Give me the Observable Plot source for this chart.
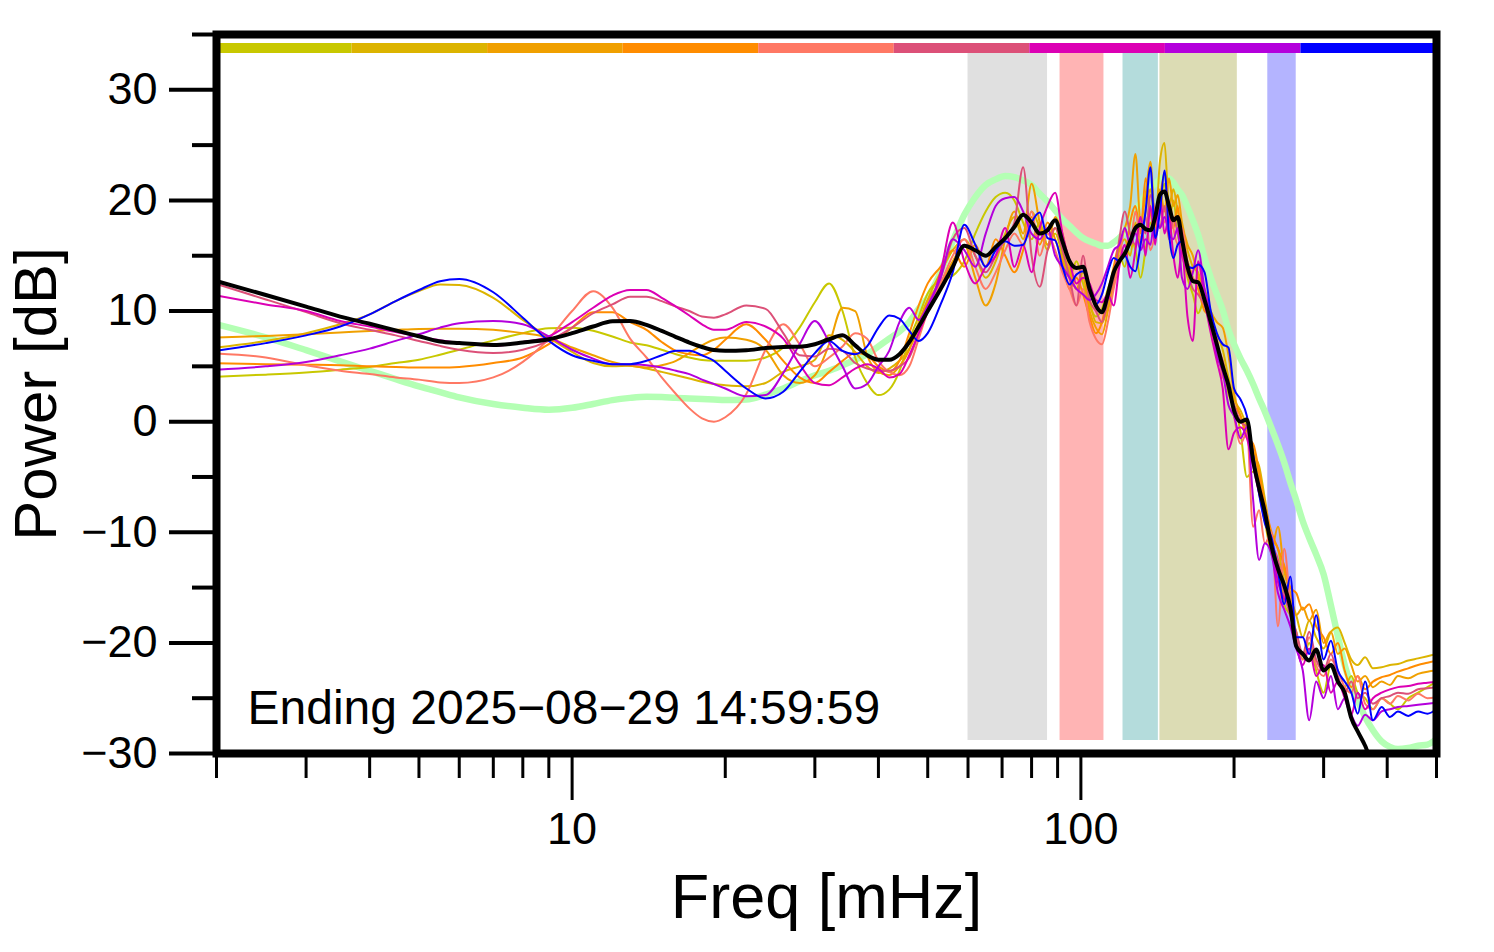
<!DOCTYPE html>
<html><head><meta charset="utf-8">
<script src="https://cdn.jsdelivr.net/npm/d3@7"></script>
<script src="https://cdn.jsdelivr.net/npm/@observablehq/plot@0.6"></script>
<style>
html,body{margin:0;padding:0;background:#fff;}
#chart{width:1494px;height:952px;}
</style></head><body><div id="chart"></div>
<script>
// Frequency grid (mHz)
const freq = [2, 2.5, 3, 3.5, 4, 4.5, 5, 5.5, 6, 7, 8, 9, 10, 11, 12, 13, 14, 15, 16, 17, 18, 19, 20,
  22, 24, 26, 28, 30, 32, 34, 36, 38, 40, 42, 44, 46, 48, 50,
  53, 56, 59, 62, 65, 68, 71, 74, 77, 80, 83, 86, 89, 92, 95, 98, 101, 104, 107, 110, 113, 116, 119, 122, 125, 128, 131, 134, 137, 140, 143, 146, 149,
  152, 155, 158, 162, 166, 170, 175, 180, 185, 190, 195, 200, 206, 212, 218, 224, 230, 237, 244, 251, 258, 265,
  273, 281, 290, 300, 310, 320, 330, 340, 350, 362, 375, 390, 405, 420, 440, 460, 480, 500];

const seriesColors = ["#c8c800", "#dcb400", "#f0a000", "#ff8c00", "#ff7864", "#dc5078", "#dc00b4", "#b400dc", "#0000ff"];

const olive = [4.07, 4.25, 4.45, 4.7, 4.95, 5.3, 5.6, 6.05, 6.5, 7.35, 8.0, 8.45, 8.5, 8.22, 7.7, 7.16, 6.9, 6.5, 6.1, 5.8, 5.57, 5.5, 5.5, 5.5, 5.8, 6.7, 8.5, 10.8, 12.5, 10.0, 5.8, 3.5, 2.4, 2.9, 4.6, 7.4, 9.5, 11.6,
  12.8, 13.2, 14.5, 17.0, 19.0, 20.3, 20.7, 20.0, 18.0, 16.5, 18.0, 16.0, 17.0,
  15.0, 13.0, 14.5, 12.5, 10.5, 9.5, 10.2, 12.0, 13.5, 15.0, 14.0, 16.5, 15.5, 13.0, 15.5, 18.0, 16.5, 19.5, 21.5, 18.0, 20.0, 17.0, 15.5, 13.0, 11.5, 9.8, 11.0,
  8.5, 6.0, 5.5, 2.5, 1.5, -1.0, -5.0, -4.5, -5.5, -9.0, -12.0, -13.0, -16.5, -17.5, -19.0, -21.5, -20.0, -22.5, -24.5, -22.0, -23.5, -24.0, -23.0, -24.5, -25.0, -26.0, -25.0, -25.5, -26.0, -25.0, -24.5, -24.0, -23.5];
const gold = [6.71, 7.3, 8.0, 8.8, 9.7, 10.9, 11.8, 12.4, 12.35, 11.2, 9.2, 7.6, 6.3, 5.3, 5.0, 5.06, 4.8, 4.5, 4.2, 3.9, 3.6, 3.4, 3.3, 3.2, 3.5, 4.5, 5.0, 5.6, 7.8, 7.4, 6.3, 5.0, 4.4, 4.8, 5.5, 6.6, 8.5, 11.0,
  13.5, 15.5, 16.5, 15.0, 13.0, 14.5, 17.0, 18.5, 16.5, 19.0, 17.5, 15.5, 17.5,
  15.5, 13.5, 12.0, 13.5, 11.0, 9.0, 8.9, 10.5, 13.0, 15.5, 16.5, 15.0, 18.0, 16.0, 19.0, 21.0, 17.5, 23.5, 25.2, 19.5, 21.0, 19.0, 17.5, 15.5, 14.0, 13.5, 11.0,
  9.0, 8.0, 6.5, 4.0, 2.0, 1.0, -0.5, -3.0, -4.0, -7.0, -10.5, -11.5, -14.5, -16.0, -17.5, -19.5, -18.0, -19.5, -20.5, -19.0, -18.6, -20.0, -21.5, -22.0, -21.3, -22.3, -22.2, -22.0, -21.9, -21.6, -21.4, -21.2, -21.0];
const orange = [7.6, 7.75, 7.9, 8.05, 8.2, 8.3, 8.38, 8.4, 8.4, 8.3, 8.0, 7.6, 6.7, 6.0, 5.4, 5.06, 4.9, 5.1, 5.5, 6.2, 6.9, 7.4, 7.6, 7.4, 6.5, 4.2, 3.5, 4.2, 7.0, 10.3, 10.0, 6.0, 4.5, 4.2, 5.0, 6.5, 9.0, 11.0,
  12.5, 14.5, 16.0, 13.0, 10.5, 12.5, 16.5, 19.0, 17.0, 21.5, 18.0, 16.0, 18.5, 17.0, 14.0, 12.0, 13.0, 10.0, 8.5, 7.9, 10.0, 12.5, 16.0, 17.5, 19.5, 24.2, 18.0, 20.5, 23.5, 18.0, 21.0, 19.0, 22.0, 19.5, 20.5, 18.0, 16.0, 15.0, 13.0, 12.0,
  10.0, 9.0, 8.5, 6.0, 2.5, 0.5, -1.0, -2.5, -5.0, -8.5, -11.5, -9.5, -13.5, -15.5, -17.5, -16.8, -18.0, -17.0, -20.0, -19.0, -21.0, -20.5, -22.0, -23.5, -23.0, -24.0, -23.5, -23.8, -23.0, -23.2, -22.8, -22.6, -22.5];
const darkOrange = [5.27, 5.2, 5.15, 5.1, 5.0, 4.95, 4.9, 4.9, 4.95, 5.3, 5.8, 7.0, 8.5, 9.9, 9.9, 9.0, 8.3, 7.2, 6.4, 6.1, 6.0, 6.5, 7.4, 8.8, 7.4, 5.5, 4.0, 3.5, 4.5, 5.5, 6.2, 6.0, 5.0, 4.5, 5.5, 8.0, 10.5, 12.5,
  14.0, 15.5, 14.0, 16.0, 14.0, 16.5, 15.0, 13.5, 15.5, 18.5, 16.0, 18.0, 16.5, 14.5, 12.0, 13.0, 11.5, 9.5, 8.0, 9.0, 11.5, 14.0, 16.0, 15.0, 18.0, 19.5, 17.0, 22.0, 19.0, 17.0, 20.0, 22.5, 19.0, 17.5, 19.5, 15.5, 14.5, 13.0, 12.0, 10.0,
  9.5, 6.5, 5.0, 3.0, 1.5, 0.5, -1.5, -2.0, -4.5, -7.5, -10.0, -11.5, -13.0, -15.0, -15.5, -17.0, -16.5, -18.5, -19.5, -21.0, -20.0, -22.5, -24.0, -23.0, -24.2, -23.5, -23.1, -22.9, -22.6, -22.3, -22.0, -21.8, -21.6];
const salmon = [6.17, 5.8, 5.1, 4.6, 4.3, 4.0, 3.8, 3.55, 3.5, 4.0, 5.4, 7.5, 10.0, 11.8, 10.3, 7.5, 5.8, 4.0, 2.5, 1.2, 0.3, 0.0, 0.4, 2.5, 6.5, 8.8, 7.0, 5.0, 5.8, 6.8, 8.0, 7.5, 5.5, 4.5, 4.2, 5.0, 7.5, 10.0,
  12.5, 15.0, 16.5, 14.0, 12.0, 13.5, 15.5, 17.0, 16.0, 19.0, 15.0, 17.0, 15.5, 13.5, 12.0, 10.5, 12.0, 9.0, 7.5, 7.0, 9.0, 12.0, 14.5, 17.5, 16.0, 19.0, 16.5, 18.5, 15.5, 17.0, 19.0, 18.0, 20.0, 17.5, 16.0, 17.5, 14.5, 13.0, 12.5, 11.5,
  9.0, 7.5, 4.0, 3.5, 0.5, -2.0, -1.0, -9.5, -8.0, -11.0, -10.0, -18.5, -11.5, -16.5, -19.5, -21.5, -19.5, -22.0, -23.0, -21.5, -22.5, -24.0, -24.5, -23.0, -25.5, -26.0, -25.0, -25.5, -24.8, -25.2, -24.6, -25.0, -24.9];
const pinkRed = [12.44, 11.05, 9.9, 8.9, 8.3, 7.8, 7.3, 6.85, 6.5, 6.2, 6.5, 7.3, 8.5, 9.8, 10.6, 11.3, 11.3, 10.9, 10.4, 10.0, 9.5, 9.4, 9.7, 10.5, 10.2, 8.0, 6.0, 5.9, 6.6, 6.4, 5.3, 4.8, 4.6, 4.6, 5.0, 5.8, 8.0, 10.5,
  13.0, 16.5, 17.5, 15.0, 13.5, 15.0, 16.5, 18.0, 23.0, 15.0, 12.2, 15.5, 17.5, 15.5, 13.0, 10.5, 15.0, 11.0, 10.0, 9.0, 11.0, 13.0, 16.5, 19.0, 17.0, 16.0, 18.5, 17.0, 20.5, 19.0, 17.5, 19.5, 16.5, 18.5, 17.0, 15.0, 13.5, 12.0, 11.5, 10.5,
  8.5, 7.0, 5.5, 3.0, 1.5, 0.0, -0.5, -3.0, -6.0, -8.0, -11.0, -12.5, -15.5, -17.5, -19.0, -21.0, -19.0, -21.5, -22.5, -21.0, -23.0, -24.5, -23.5, -25.0, -24.5, -25.5, -25.0, -24.8, -24.5, -24.6, -24.2, -24.1, -24.0];
const magenta = [11.4, 10.6, 10.0, 9.1, 8.6, 8.1, 7.7, 7.35, 7.1, 6.87, 7.2, 7.7, 9.0, 10.3, 11.4, 11.9, 11.9, 11.2, 10.4, 9.6, 8.8, 8.3, 8.3, 9.0, 8.6, 7.5, 5.2, 3.5, 3.3, 4.0, 4.8, 5.2, 4.8, 4.0, 4.3, 6.0, 8.0, 10.0,
  13.5, 18.0, 14.5, 12.5, 14.0, 15.0, 17.5, 14.0, 16.0, 13.5, 17.5, 19.5, 20.7, 17.0, 14.5, 12.5, 13.0, 12.5, 11.0, 10.8, 11.5, 10.5, 14.0, 16.0, 13.0, 15.5, 18.5, 15.0, 19.5, 16.0, 20.5, 17.0, 18.5, 15.0, 13.0, 15.5, 9.5, 7.3, 14.5, 11.0,
  8.0, 5.5, 3.0, -2.5, -1.0, -0.5, -1.5, -4.0, -6.5, -9.0, -11.0, -14.5, -16.0, -16.5, -20.0, -22.0, -20.5, -23.0, -22.0, -24.5, -23.5, -25.0, -26.5, -24.5, -26.0, -25.0, -24.5, -24.2, -24.0, -23.9, -23.7, -23.6, -23.5];
const purple = [4.7, 5.0, 5.4, 6.0, 6.6, 7.3, 7.9, 8.5, 8.9, 9.1, 8.8, 7.7, 6.5, 5.7, 5.2, 5.2, 5.1, 4.9, 4.6, 4.3, 3.8, 3.4, 3.0, 2.3, 2.4, 4.4, 7.0, 9.1, 7.2, 5.0, 3.0, 3.4, 5.0, 6.4, 9.0, 10.3, 9.2, 10.5,
  13.0, 16.5, 15.5, 14.0, 17.0, 19.5, 20.2, 20.3, 19.0, 17.0, 16.5, 17.5, 15.0, 14.0, 13.0, 12.0, 11.5, 11.0, 11.5, 12.5, 14.0, 15.5, 16.0, 17.5, 16.0, 17.0, 15.5, 16.5, 16.0, 19.0, 17.5, 18.5, 17.0, 16.5, 17.5, 13.0, 12.0, 13.5, 15.5, 12.0,
  9.5, 6.0, 4.5, 1.5, 0.5, -1.5, -0.5, -7.0, -12.5, -11.0, -12.0, -15.5, -17.0, -18.5, -20.5, -22.5, -27.0, -23.5, -25.0, -23.0, -26.0, -25.0, -26.5, -27.5, -26.5, -27.0, -26.2, -26.0, -25.8, -25.7, -25.6, -25.5, -25.4];
const blue = [6.41, 7.1, 7.8, 8.6, 9.7, 10.9, 11.9, 12.7, 12.9, 11.7, 9.4, 7.3, 6.0, 5.5, 5.2, 5.2, 5.5, 6.0, 6.4, 6.4, 6.0, 5.5, 4.6, 3.0, 2.1, 2.7, 4.5, 6.2, 7.3, 6.4, 6.1, 6.8, 8.5, 9.6, 9.3, 8.2, 7.3, 8.0,
  10.6, 13.5, 17.8, 16.0, 14.0, 15.5, 16.3, 15.9, 16.0, 18.0, 18.9, 16.6, 16.4, 14.0, 12.4, 13.3, 13.6, 12.0, 10.6, 11.5, 13.5, 14.8, 14.5, 15.0, 14.0, 13.6, 16.0, 19.0, 23.0, 16.6, 19.0, 22.7, 17.0, 14.8, 16.0, 16.3, 14.0, 13.9, 14.2, 13.5,
  10.0, 8.0, 7.0, 6.7, 3.0, 2.0, 0.5, -3.0, -6.5, -9.2, -10.5, -13.5, -16.5, -14.0, -19.5, -19.5, -21.0, -17.5, -21.5, -19.8, -22.5, -23.5, -24.5, -26.4, -23.5, -27.0, -25.8, -26.7, -26.2, -26.6, -26.2, -26.4, -26.0];

const mean = [12.7, 11.45, 10.4, 9.5, 8.85, 8.25, 7.72, 7.24, 7.1, 6.93, 7.15, 7.45, 8.0, 8.6, 9.07, 9.1, 8.75, 8.2, 7.65, 7.15, 6.75, 6.47, 6.4, 6.45, 6.65, 6.75, 6.78, 7.0, 7.45, 7.8, 6.9, 6.0, 5.6, 5.6, 6.1, 7.2, 8.6, 10.0,
  12.0, 14.0, 15.9, 15.5, 15.0, 15.8, 16.6, 17.6, 18.7, 18.0, 17.0, 17.3, 18.2, 16.3, 14.5, 13.9, 14.0, 12.0, 10.5, 9.9, 11.5, 13.5, 14.5, 15.2, 16.3, 17.5, 17.8, 17.4, 17.3, 18.5, 20.5, 20.8, 19.5, 18.2, 18.5, 16.5, 14.0, 12.7, 12.6, 11.0,
  9.0, 7.0, 5.0, 3.3, 1.0, 0.0, 0.2, -3.5, -6.0, -8.2, -11.3, -13.3, -14.8, -16.8, -20.3, -21.0, -21.6, -20.6, -22.5, -22.0, -23.5, -24.5, -26.8, -28.0, -29.3, -31, -31.5, -32, -32, -32, -32, -32, -32];
const reference = [8.8, 7.62, 6.46, 5.45, 4.6, 3.84, 3.19, 2.67, 2.2, 1.59, 1.26, 1.08, 1.25, 1.6, 1.95, 2.15, 2.25, 2.22, 2.15, 2.1, 2.05, 2.0, 1.95, 2.0, 2.45, 3.0, 3.65, 4.2, 4.6, 5.1, 5.6, 6.1, 6.8, 7.5, 8.15, 9.0, 10.2, 11.2,
  13.5, 16.3, 18.7, 20.3, 21.4, 21.9, 22.2, 22.1, 21.8, 21.4, 20.6, 19.9, 19.1, 18.3, 17.7, 17.1, 16.6, 16.3, 16.1, 15.9, 15.9, 16.2, 16.6, 17.2, 18.2, 19.0, 19.8, 20.5, 21.1, 21.5, 21.9, 22.1, 22.0, 21.6, 21.0, 20.5, 19.4, 18.2, 16.9, 14.8,
  13.0, 11.5, 10.1, 8.3, 7.0, 5.7, 4.6, 3.4, 2.1, 0.9, -0.6, -2.1, -3.7, -5.5, -7.1, -9.0, -10.5, -12.0, -13.8, -16.6, -19.4, -22.0, -23.8, -25.2, -26.7, -27.9, -28.9, -29.4, -29.6, -29.5, -29.3, -29.2, -28.7];

// Shaded frequency bands (mHz)
const bandLo = [60, 91, 121, 143, 233];
const bandHi = [86, 111, 142, 203, 265];
const bandColors = ["#e0e0e0", "#ffb4b4", "#b4dcdc", "#dcdcb4", "#b4b4ff"];

// Ticks
const majorXTicks = [10, 100];
const minorXTicks = [2, 3, 4, 5, 6, 7, 8, 9, 20, 30, 40, 50, 60, 70, 80, 90, 200, 300, 400, 500];
const majorYTicks = [-30, -20, -10, 0, 10, 20, 30];
const minorYTicks = [-25, -15, -5, 5, 15, 25, 35];

const caption = "Ending 2025\u221208\u221229 14:59:59";
const xLabel = "Freq [mHz]";
const yLabel = "Power [dB]";

const xDomain = [2, 500];
const yDomain = [-30, 35];

const colored = [olive, gold, orange, darkOrange, salmon, pinkRed, magenta, purple, blue];
const rows = (vals) => freq.map((f, i) => ({f, v: vals[i]})).filter(d => d.v != null);

const lo = Math.log10(xDomain[0]), hi = Math.log10(xDomain[1]), nSeg = seriesColors.length;
const barSegs = seriesColors.map((c, i) => ({x1: 10 ** (lo + (hi - lo) * i / nSeg), x2: 10 ** (lo + (hi - lo) * (i + 1) / nSeg), c}));
const bands = bandLo.map((a, i) => ({x1: a, x2: bandHi[i], c: bandColors[i]}));

const chart = Plot.plot({
  width: 1494, height: 952,
  marginLeft: 216, marginRight: 58, marginTop: 34, marginBottom: 199,
  x: {type: "log", domain: xDomain, label: null},
  y: {domain: yDomain, label: null},
  style: {fontFamily: "'Liberation Sans', Arial, Helvetica, sans-serif", background: "#fff", color: "#000", overflow: "visible"},
  marks: [
    Plot.rect(bands, {x1: "x1", x2: "x2", fill: "c", insetTop: 19, insetBottom: 13}),
    Plot.rect(barSegs, {x1: "x1", x2: "x2", fill: "c", insetTop: 9, insetBottom: 700}),
    Plot.line(rows(reference), {x: "f", y: "v", stroke: "#b4ffb4", strokeWidth: 6.5, curve: "monotone-x", clip: true}),
    ...colored.map((vals, i) => Plot.line(rows(vals), {x: "f", y: "v", stroke: seriesColors[i], strokeWidth: 2, curve: "monotone-x", clip: true})),
    Plot.line(rows(mean), {x: "f", y: "v", stroke: "#000", strokeWidth: 4, curve: "monotone-x", clip: true}),
    Plot.axisY(majorYTicks, {tickSize: 47, tickPadding: 12, strokeWidth: 4, fontSize: 45, label: null}),
    Plot.axisY(minorYTicks, {tickSize: 24, strokeWidth: 4, tickFormat: () => "", label: null}),
    Plot.axisX(majorXTicks, {tickSize: 47, tickPadding: 12, strokeWidth: 3, fontSize: 45, tickFormat: d => String(d), label: null}),
    Plot.axisX(minorXTicks, {tickSize: 25, strokeWidth: 3, tickFormat: () => "", label: null}),
    Plot.frame({stroke: "#000", strokeWidth: 8}),
    Plot.text([caption], {text: d => d, frameAnchor: "bottom-left", textAnchor: "start", lineAnchor: "middle", dx: 31, dy: -45, fontSize: 48, fill: "#000"}),
    Plot.text([yLabel], {text: d => d, frameAnchor: "left", textAnchor: "middle", lineAnchor: "middle", rotate: -90, dx: -180, fontSize: 60, fill: "#000"}),
    Plot.text([xLabel], {text: d => d, frameAnchor: "bottom", textAnchor: "middle", dy: 144, fontSize: 63, lineAnchor: "middle", fill: "#000"})
  ]
});
document.getElementById("chart").appendChild(chart);
</script></body></html>
